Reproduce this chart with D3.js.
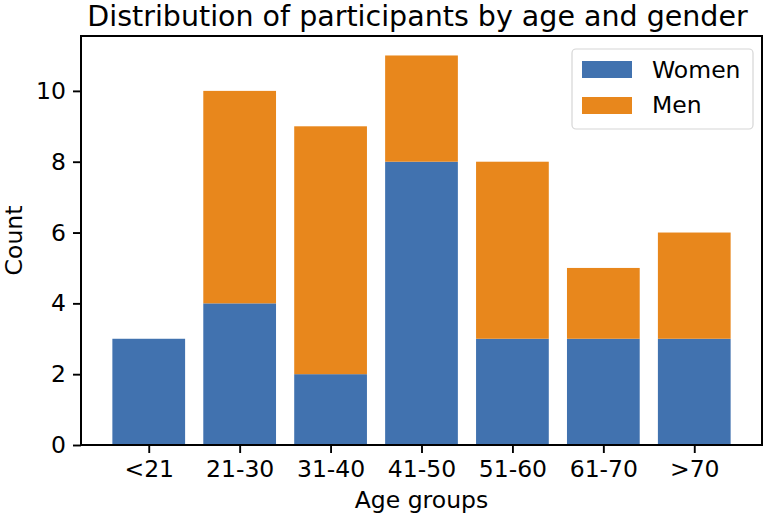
<!DOCTYPE html>
<html><head><meta charset="utf-8">
<script src="https://cdn.jsdelivr.net/npm/d3@7/dist/d3.min.js"></script>
<style>body{margin:0;background:#fff}svg{display:block}text{font-family:"DejaVu Sans",sans-serif;fill:#000}</style>
</head><body><svg id="c" width="767" height="520"></svg>
<script>
const categories = ["<21","21-30","31-40","41-50","51-60","61-70",">70"];
const women = [3,4,2,8,3,3,3];
const men = [0,6,7,3,5,2,3];
const yTicks = [0,2,4,6,8,10];
const seriesNames = ["Women","Men"];
const colors = ["#4172af","#e8871c"];

const svg = d3.select("#c");
const L=81, R=762, T=36, B=445;
const FS = "23.5px";
const x = d3.scaleLinear().domain([-0.745, 6.745]).range([L,R]);
const y = d3.scaleLinear().domain([0, 11.55]).range([B,T]);
const bw = x(0.8)-x(0);

const data = categories.map((c,i)=>({c,i,w:women[i],m:men[i]}));
const g = svg.append("g");
g.selectAll("rect.w").data(data).enter().append("rect")
 .attr("x",d=>x(d.i-0.4)).attr("width",bw)
 .attr("y",d=>y(d.w)).attr("height",d=>y(0)-y(d.w)).attr("fill",colors[0]);
g.selectAll("rect.m").data(data.filter(d=>d.m>0)).enter().append("rect")
 .attr("x",d=>x(d.i-0.4)).attr("width",bw)
 .attr("y",d=>y(d.w+d.m)).attr("height",d=>y(d.w)-y(d.w+d.m)).attr("fill",colors[1]);

// frame
svg.append("rect").attr("x",L).attr("y",T).attr("width",R-L).attr("height",B-T)
 .attr("fill","none").attr("stroke","#000").attr("stroke-width",2);

// y axis
const ya = svg.append("g").attr("transform",`translate(${L},0)`)
 .call(d3.axisLeft(y).tickValues(yTicks).tickSize(8).tickPadding(7));
ya.select(".domain").remove();
ya.selectAll("line").attr("stroke","#000").attr("stroke-width",1.9);
ya.selectAll("text").style("font-size",FS).attr("fill","#000");

// x axis
const xa = svg.append("g").attr("transform",`translate(0,${B})`)
 .call(d3.axisBottom(x).tickValues(d3.range(categories.length)).tickFormat(i=>categories[i]).tickSize(8).tickPadding(7));
xa.select(".domain").remove();
xa.selectAll("line").attr("stroke","#000").attr("stroke-width",1.9);
xa.selectAll("text").style("font-size",FS).attr("fill","#000");

// labels
svg.append("text").attr("x",(L+R)/2 - 4).attr("y",26).attr("text-anchor","middle").style("font-size","28.5px")
 .text("Distribution of participants by age and gender");
svg.append("text").attr("x",(L+R)/2).attr("y",508).attr("text-anchor","middle").style("font-size",FS).text("Age groups");
svg.append("text").attr("transform",`translate(22,${(T+B)/2}) rotate(-90)`).attr("text-anchor","middle").style("font-size",FS).text("Count");

// legend
const lg = svg.append("g");
lg.append("rect").attr("x",572).attr("y",49).attr("width",181).attr("height",80).attr("rx",4)
 .attr("fill","#fff").attr("fill-opacity",0.8).attr("stroke","#d6d6d6").attr("stroke-width",1.2);
seriesNames.forEach((n,k)=>{
  lg.append("rect").attr("x",582).attr("y",61+k*36).attr("width",50).attr("height",17).attr("fill",colors[k]);
  lg.append("text").attr("x",652).attr("y",78+k*35).style("font-size",FS).text(n);
});
</script></body></html>
